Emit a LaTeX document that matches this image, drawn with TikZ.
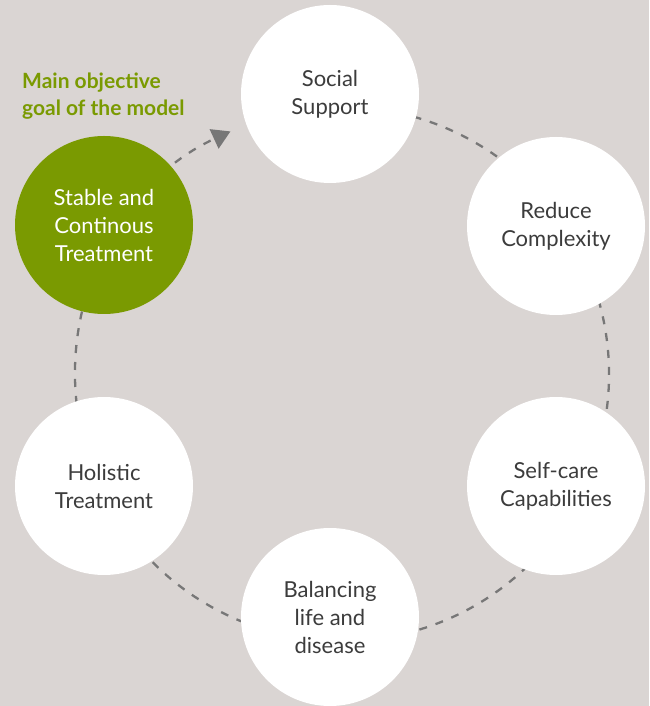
\documentclass[tikz,border=0pt]{standalone}
\usepackage{fontspec}
\setmainfont{Lato}
\usetikzlibrary{arrows.meta}
\definecolor{bg}{HTML}{DAD5D3}
\definecolor{leaf}{HTML}{7A9A01}
\definecolor{ink}{HTML}{3C3C3C}
\definecolor{dashgray}{HTML}{777777}
\begin{document}
\begin{tikzpicture}[x=1pt,y=1pt,
  stage/.style={circle, fill=white, minimum size=178pt, inner sep=0pt, align=center, text=ink, font=\fontsize{22}{28}\selectfont},
  goal/.style={stage, fill=leaf, text=white},
  ring/.style={draw=dashgray, line width=2.3pt, dash pattern=on 8pt off 9pt}]
\fill[bg] (0,0) rectangle (649,706);
\useasboundingbox (0,0) rectangle (649,706);
\coordinate (ringc) at (342,332);
\draw[ring, -{Triangle[length=18pt,width=21pt]}] (ringc) ++(100:267) arc[start angle=100, end angle=-245.3, radius=267];
\node[goal] (stable) at (104,481) {Stable and\\Continous\\Treatment};
\node[stage] (social) at (330,612) {Social\\Support};
\node[stage] (reduce) at (556,480) {Reduce\\Complexity};
\node[stage] (selfcare) at (556,220) {Self-care\\Capabilities};
\node[stage] (balance) at (330,89) {Balancing\\life and\\disease};
\node[stage] (holistic) at (104,220) {Holistic\\Treatment};
\node[anchor=north west, inner sep=0pt, align=left, text=leaf, font=\bfseries\fontsize{21}{26.5}\selectfont] (objective) at (22,633) {Main objective\\goal of the model};
\end{tikzpicture}
\end{document}
